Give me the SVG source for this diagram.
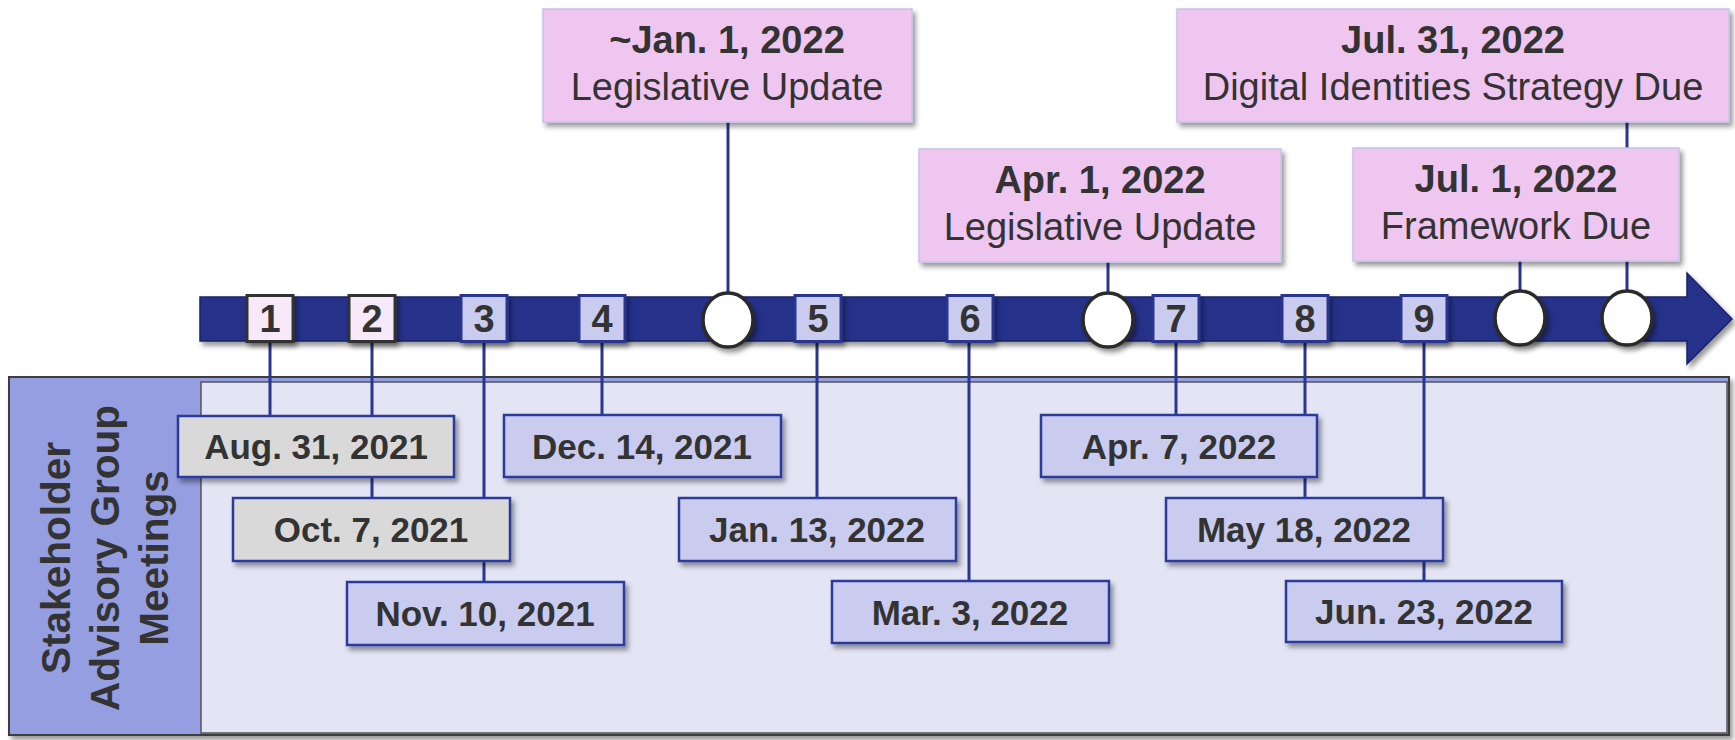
<svg xmlns="http://www.w3.org/2000/svg" width="1735" height="740" viewBox="0 0 1735 740">
<defs>
<filter id="sh" x="-10%" y="-20%" width="130%" height="160%">
<feDropShadow dx="3" dy="4" stdDeviation="2.5" flood-color="#000" flood-opacity="0.4"/>
</filter>
</defs>
<style>
.t{font-family:"Liberation Sans",Arial,sans-serif;fill:#333;text-anchor:middle}
.b{font-weight:bold}
.pink{fill:#efc6ef;stroke:#c4c4ea;stroke-width:1.5}
.gray{fill:#d9d9d9;stroke:#2c3a9c;stroke-width:2.5}
.lav{fill:#c9ccef;stroke:#2c3a9c;stroke-width:2.5}
.nb1{fill:#f8e9f8;stroke:#333;stroke-width:3}
.nb2{fill:#c9ccef;stroke:#2b3590;stroke-width:3}
.circ{fill:#fff;stroke:#2a2a2a;stroke-width:3.5}
.con{stroke:#2a3592;stroke-width:3;fill:none}
.top{font-size:38px}
.dt{font-size:35px;font-weight:bold}
.num{font-size:38px;font-weight:bold}
</style>

<g id="panel">
<rect x="9" y="377" width="1720" height="358" fill="#959ee0" stroke="#3d3d3d" stroke-width="2" filter="url(#sh)"/>
<rect x="201" y="382" width="1526" height="351" fill="#e3e5f5" stroke="#555" stroke-width="1.5"/>
<g transform="translate(0,558) rotate(-90)">
<text class="t b" x="0" y="70" font-size="40.5">Stakeholder</text>
<text class="t b" x="0" y="119" font-size="40.5">Advisory Group</text>
<text class="t b" x="0" y="168" font-size="40.5">Meetings</text>
</g>
</g>

<g id="connectors">
<line class="con" x1="270" y1="340" x2="270" y2="416"/>
<line class="con" x1="372" y1="340" x2="372" y2="498"/>
<line class="con" x1="484" y1="340" x2="484" y2="582"/>
<line class="con" x1="602" y1="340" x2="602" y2="415"/>
<line class="con" x1="817" y1="340" x2="817" y2="498"/>
<line class="con" x1="969" y1="340" x2="969" y2="581"/>
<line class="con" x1="1176" y1="340" x2="1176" y2="415"/>
<line class="con" x1="1305" y1="340" x2="1305" y2="498"/>
<line class="con" x1="1424" y1="340" x2="1424" y2="581"/>
<line class="con" x1="728" y1="122" x2="728" y2="295"/>
<line class="con" x1="1108" y1="262" x2="1108" y2="295"/>
<line class="con" x1="1520" y1="261" x2="1520" y2="293"/>
<line class="con" x1="1627" y1="122" x2="1627" y2="293"/>
</g>

<g id="timeline">
<polygon points="200,297 1687,297 1687,273 1732,319 1687,364 1687,341 200,341" fill="#28308a" stroke="#1d2268" stroke-width="1.5" filter="url(#sh)"/>
</g>

<g id="m1"><rect class="nb1" x="247" y="295.5" width="46" height="46" filter="url(#sh)"/><text class="t num" x="270" y="332">1</text></g>
<g id="m2"><rect class="nb1" x="349" y="295.5" width="46" height="46" filter="url(#sh)"/><text class="t num" x="372" y="332">2</text></g>
<g id="m3"><rect class="nb2" x="461" y="295.5" width="46" height="46" filter="url(#sh)"/><text class="t num" x="484" y="332">3</text></g>
<g id="m4"><rect class="nb2" x="579" y="295.5" width="46" height="46" filter="url(#sh)"/><text class="t num" x="602" y="332">4</text></g>
<g id="m5"><rect class="nb2" x="795" y="295.5" width="46" height="46" filter="url(#sh)"/><text class="t num" x="818" y="332">5</text></g>
<g id="m6"><rect class="nb2" x="947" y="295.5" width="46" height="46" filter="url(#sh)"/><text class="t num" x="970" y="332">6</text></g>
<g id="m7"><rect class="nb2" x="1153" y="295.5" width="46" height="46" filter="url(#sh)"/><text class="t num" x="1176" y="332">7</text></g>
<g id="m8"><rect class="nb2" x="1282" y="295.5" width="46" height="46" filter="url(#sh)"/><text class="t num" x="1305" y="332">8</text></g>
<g id="m9"><rect class="nb2" x="1401" y="295.5" width="46" height="46" filter="url(#sh)"/><text class="t num" x="1424" y="332">9</text></g>

<g id="c1"><ellipse class="circ" cx="728" cy="320" rx="25" ry="27" filter="url(#sh)"/></g>
<g id="c2"><ellipse class="circ" cx="1108" cy="320" rx="25" ry="27" filter="url(#sh)"/></g>
<g id="c3"><ellipse class="circ" cx="1520" cy="318" rx="25" ry="27" filter="url(#sh)"/></g>
<g id="c4"><ellipse class="circ" cx="1627" cy="318" rx="25" ry="27" filter="url(#sh)"/></g>

<g id="e-jan1"><rect class="pink" x="543" y="9" width="369" height="113" filter="url(#sh)"/><text class="t top b" x="727" y="53">~Jan. 1, 2022</text><text class="t top" x="727" y="100">Legislative Update</text></g>
<g id="e-apr1"><rect class="pink" x="919" y="149" width="362" height="113" filter="url(#sh)"/><text class="t top b" x="1100" y="193">Apr. 1, 2022</text><text class="t top" x="1100" y="240">Legislative Update</text></g>
<g id="e-jul31"><rect class="pink" x="1177" y="9" width="552" height="113" filter="url(#sh)"/><text class="t top b" x="1453" y="53">Jul. 31, 2022</text><text class="t top" x="1453" y="100">Digital Identities Strategy Due</text></g>
<g id="e-jul1"><rect class="pink" x="1353" y="148" width="326" height="113" filter="url(#sh)"/><text class="t top b" x="1516" y="192">Jul. 1, 2022</text><text class="t top" x="1516" y="239">Framework Due</text></g>

<g id="d-aug31"><rect class="gray" x="178" y="416" width="276" height="61" filter="url(#sh)"/><text class="t dt" x="316" y="459">Aug. 31, 2021</text></g>
<g id="d-oct7"><rect class="gray" x="233" y="498" width="277" height="63" filter="url(#sh)"/><text class="t dt" x="371" y="542">Oct. 7, 2021</text></g>
<g id="d-nov10"><rect class="lav" x="347" y="582" width="277" height="63" filter="url(#sh)"/><text class="t dt" x="485" y="626">Nov. 10, 2021</text></g>
<g id="d-dec14"><rect class="lav" x="504" y="415" width="277" height="62" filter="url(#sh)"/><text class="t dt" x="642" y="459">Dec. 14, 2021</text></g>
<g id="d-jan13"><rect class="lav" x="679" y="498" width="277" height="63" filter="url(#sh)"/><text class="t dt" x="817" y="542">Jan. 13, 2022</text></g>
<g id="d-mar3"><rect class="lav" x="832" y="581" width="277" height="62" filter="url(#sh)"/><text class="t dt" x="970" y="625">Mar. 3, 2022</text></g>
<g id="d-apr7"><rect class="lav" x="1041" y="415" width="276" height="62" filter="url(#sh)"/><text class="t dt" x="1179" y="459">Apr. 7, 2022</text></g>
<g id="d-may18"><rect class="lav" x="1166" y="498" width="277" height="63" filter="url(#sh)"/><text class="t dt" x="1304" y="542">May 18, 2022</text></g>
<g id="d-jun23"><rect class="lav" x="1286" y="581" width="276" height="61" filter="url(#sh)"/><text class="t dt" x="1424" y="624">Jun. 23, 2022</text></g>
</svg>
